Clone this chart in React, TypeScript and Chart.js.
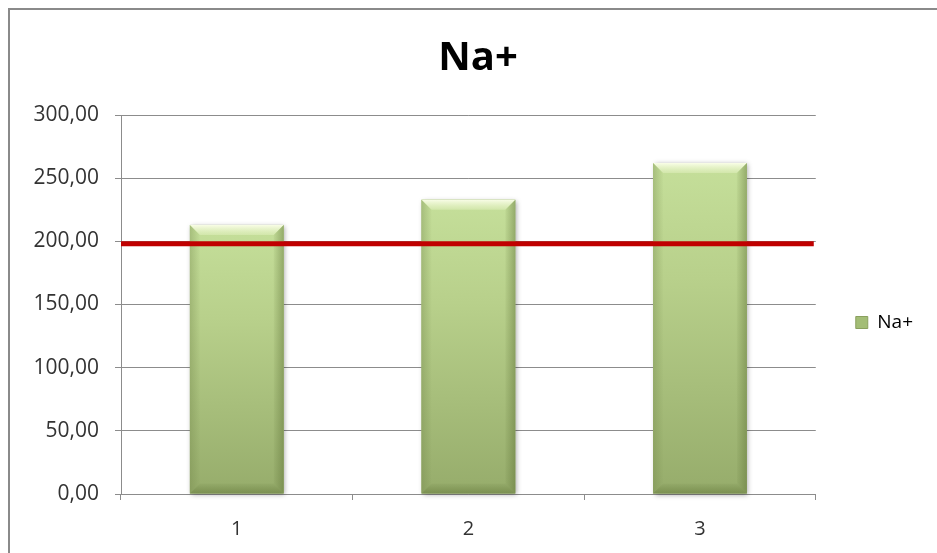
import React, { useEffect, useRef } from "react";
import { Chart, registerables } from "chart.js";

Chart.register(...registerables);

// Sample numbers and measured sodium values
const categories = ["1", "2", "3"];
const naValues = [213, 233, 262];
// Reference limit drawn as a red horizontal line
const limitValues = [198];
const yTickMin = 0;
const yTickMax = 300;
const yTickStep = 50;

const GRID = "#8c8c8c";
const TICK_TEXT = "#333333";
const FONT = "'Open Sans', 'Noto Sans', sans-serif";

const formatTick = (v: number) => v.toFixed(2).replace(".", ",");

// Light-to-dark green fill for every bar, from its top down to the base
const barFill = (ctx: any) => {
  const chart = ctx.chart;
  if (!chart.chartArea || !ctx.parsed) return "#a8c27c";
  const y = chart.scales.y;
  const top = y.getPixelForValue(ctx.parsed.y);
  const bottom = y.getPixelForValue(0);
  const g = chart.ctx.createLinearGradient(0, top, 0, bottom);
  g.addColorStop(0, "#c5df9a");
  g.addColorStop(0.35, "#b8d08b");
  g.addColorStop(1, "#96ac6b");
  return g;
};

// Soft shadow behind the bars
const barShadow = {
  id: "barShadow",
  beforeDatasetsDraw(chart: any) {
    const meta = chart.getDatasetMeta(0);
    const c = chart.ctx;
    c.save();
    c.shadowColor = "rgba(0,0,0,0.35)";
    c.shadowBlur = 5;
    c.shadowOffsetX = 1.5;
    c.shadowOffsetY = 1;
    c.fillStyle = "#9fb574";
    meta.data.forEach((bar: any) => {
      const p = bar.getProps(["x", "y", "base", "width"], true);
      c.fillRect(p.x - p.width / 2, p.y, p.width, p.base - p.y);
    });
    c.restore();
  },
};

// Bevelled edges on the bars
const barBevel = {
  id: "barBevel",
  afterDatasetsDraw(chart: any) {
    const meta = chart.getDatasetMeta(0);
    const c = chart.ctx;
    const b = 10;
    c.save();
    meta.data.forEach((bar: any) => {
      const p = bar.getProps(["x", "y", "base", "width"], true);
      const l = p.x - p.width / 2;
      const r = p.x + p.width / 2;
      const t = p.y;
      const btm = p.base;
      const poly = (pts: number[][], fill: any) => {
        c.beginPath();
        c.moveTo(pts[0][0], pts[0][1]);
        for (let i = 1; i < pts.length; i++) c.lineTo(pts[i][0], pts[i][1]);
        c.closePath();
        c.fillStyle = fill;
        c.fill();
      };
      // top facet
      const gTop = c.createLinearGradient(0, t, 0, t + b);
      gTop.addColorStop(0, "rgba(252,255,235,0.95)");
      gTop.addColorStop(1, "rgba(225,240,190,0.5)");
      poly([[l, t], [r, t], [r - b, t + b], [l + b, t + b]], gTop);
      // right facet
      const gR = c.createLinearGradient(r - b, 0, r, 0);
      gR.addColorStop(0, "rgba(90,110,50,0.05)");
      gR.addColorStop(1, "rgba(90,110,50,0.45)");
      poly([[r, t], [r, btm], [r - b, btm - b], [r - b, t + b]], gR);
      // left facet
      const gL = c.createLinearGradient(l, 0, l + b, 0);
      gL.addColorStop(0, "rgba(110,130,70,0.35)");
      gL.addColorStop(1, "rgba(110,130,70,0.02)");
      poly([[l, t], [l + b, t + b], [l + b, btm - b], [l, btm]], gL);
      // bottom facet
      const gB = c.createLinearGradient(0, btm - b, 0, btm);
      gB.addColorStop(0, "rgba(80,100,40,0.05)");
      gB.addColorStop(1, "rgba(80,100,40,0.4)");
      poly([[l, btm], [l + b, btm - b], [r - b, btm - b], [r, btm]], gB);
    });
    c.restore();
  },
};

// Red limit line across the plot area
const limitLine = {
  id: "limitLine",
  afterDatasetsDraw(chart: any) {
    const { ctx: c, chartArea, scales } = chart;
    c.save();
    c.strokeStyle = "#c00000";
    c.lineWidth = 5;
    limitValues.forEach((v) => {
      const y = scales.y.getPixelForValue(v);
      c.beginPath();
      c.moveTo(chartArea.left, y);
      c.lineTo(chartArea.right - 2, y);
      c.stroke();
    });
    c.restore();
  },
};

// Move the legend down so it sits at the middle of the chart frame
const legendOffset = {
  id: "legendOffset",
  afterLayout(chart: any) {
    const lg = chart.legend;
    if (lg) {
      lg.top += 18;
      lg.bottom += 18;
    }
  },
};

export default function App() {
  const canvasRef = useRef<HTMLCanvasElement | null>(null);

  useEffect(() => {
    const canvas = canvasRef.current;
    if (!canvas) return;
    const chart = new Chart(canvas, {
      type: "bar",
      data: {
        labels: categories,
        datasets: [
          {
            label: "Na+",
            data: naValues,
            backgroundColor: barFill,
            borderWidth: 0,
            categoryPercentage: 1,
            barPercentage: 0.405,
          },
        ],
      },
      plugins: [barShadow, barBevel, limitLine, legendOffset],
      options: {
        responsive: false,
        animation: false,
        layout: { padding: { left: 23, right: 14, top: 0, bottom: 0 } },
        plugins: {
          title: {
            display: true,
            text: "Na+",
            color: "#000000",
            font: { family: FONT, size: 40, weight: "bold", lineHeight: 1.2 },
            padding: { top: 25, bottom: 32 },
          },
          legend: {
            display: true,
            position: "right",
            fullSize: false,
            labels: {
              boxWidth: 12,
              boxHeight: 12,
              padding: 40,
              color: TICK_TEXT,
              font: { family: FONT, size: 19 },
              generateLabels: () => [
                {
                  text: "Na+",
                  fillStyle: "#a3bd76",
                  strokeStyle: "#8aa05e",
                  lineWidth: 1,
                  hidden: false,
                  datasetIndex: 0,
                },
              ],
            },
          },
          tooltip: { enabled: false },
        },
        scales: {
          x: {
            offset: true,
            afterFit: (scale: any) => {
              scale.height = 59;
            },
            grid: {
              display: true,
              drawOnChartArea: false,
              drawTicks: true,
              tickLength: 6,
              offset: true,
              color: GRID,
            },
            border: { display: true, color: GRID, width: 1 },
            ticks: {
              color: TICK_TEXT,
              padding: 17,
              font: { family: FONT, size: 20 },
            },
          },
          y: {
            min: yTickMin,
            max: yTickMax,
            afterFit: (scale: any) => {
              scale.width = 88;
            },
            grid: {
              color: GRID,
              tickLength: 6,
              drawTicks: true,
            },
            border: { display: true, color: GRID, width: 1 },
            ticks: {
              stepSize: yTickStep,
              color: TICK_TEXT,
              padding: 16,
              font: { family: FONT, size: 21 },
              callback: (v: any) => formatTick(Number(v)),
            },
          },
        },
      },
    });
    return () => chart.destroy();
  }, []);

  return (
    <div
      style={{
        position: "fixed",
        left: 8,
        top: 8,
        right: 0,
        bottom: 0,
        borderTop: "2px solid #8a8a8a",
        borderLeft: "2px solid #8a8a8a",
        background: "#ffffff",
        overflow: "hidden",
      }}
    >
      <canvas ref={canvasRef} width={927} height={543} style={{ display: "block" }} />
    </div>
  );
}
